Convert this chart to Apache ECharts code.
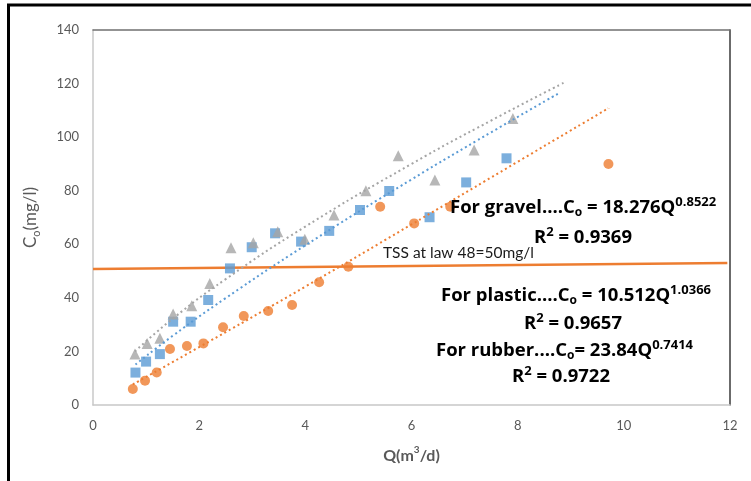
<!DOCTYPE html>
<html>
<head>
<meta charset="utf-8">
<script src="https://cdn.jsdelivr.net/npm/echarts@6/dist/echarts.min.js"></script>
<style>
  html, body { margin: 0; padding: 0; background: #fff; }
  #chart { width: 751px; height: 481px; }
</style>
</head>
<body>
<div id="chart"></div>
<script>
const qGravel = [0.80, 1.00, 1.26, 1.51, 1.84, 2.17, 2.58, 2.99, 3.43, 3.92, 4.45, 5.03, 5.58, 6.34, 7.03, 7.79];
const cGravel = [12.1, 16.2, 19.0, 31.1, 31.1, 39.2, 51.0, 58.9, 64.1, 61.0, 65.0, 72.8, 79.9, 70.1, 83.1, 92.1];

const qPlastic = [0.75, 0.98, 1.20, 1.45, 1.77, 2.08, 2.45, 2.84, 3.30, 3.75, 4.26, 4.81, 5.41, 6.05, 6.73, 9.71];
const cPlastic = [6.0, 9.1, 12.1, 20.9, 22.0, 23.0, 29.0, 33.2, 35.1, 37.3, 45.8, 51.6, 74.0, 67.8, 74.0, 90.0];

const qRubber = [0.79, 1.02, 1.26, 1.51, 1.86, 2.20, 2.60, 3.02, 3.48, 3.99, 4.54, 5.14, 5.75, 6.44, 7.18, 7.91];
const cRubber = [19.0, 23.0, 24.9, 34.0, 37.1, 45.4, 58.7, 60.6, 64.7, 61.9, 70.9, 80.0, 93.1, 84.0, 95.2, 107.0];

// dotted trend lines
const qTrendGravel = [0.80, 1.5, 2.5, 4, 6, 7.5, 8.76];
const cTrendGravel = [15.1, 25.8, 39.9, 59.6, 84.2, 101.8, 116.2];
const qTrendPlastic = [0.75, 2, 4, 6, 8, 9.71];
const cTrendPlastic = [7.7, 21.6, 44.2, 67.4, 90.8, 110.8];
const qTrendRubber = [0.79, 1.5, 2.5, 4, 6, 7.5, 8.9];
const cTrendRubber = [20.0, 32.2, 47.0, 66.6, 90.0, 106.2, 120.6];

// TSS limit line
const qLimit = [0, 11.95];
const cLimit = [50.8, 53.0];

const xTicks = [0, 2, 4, 6, 8, 10, 12];
const yTicks = [0, 20, 40, 60, 80, 100, 120, 140];

const ORANGE = '#ED7D31', BLUE = '#5B9BD5', GRAY = '#A5A5A5';
const TXT = '#2B323C';
const EQ_FONT = 'Open Sans';

const zip = (xs, ys) => xs.map((x, i) => [x, ys[i]]);

const chart = echarts.init(document.getElementById('chart'));

const trend = (xs, ys, color) => ({
  type: 'line',
  data: zip(xs, ys),
  smooth: true,
  showSymbol: false,
  symbol: 'none',
  silent: true,
  z: 4,
  lineStyle: { color: color, width: 2, type: [2, 3] }
});

const eqRich = {
  b: { fontFamily: EQ_FONT, fontWeight: 'bold', fontSize: 18.5, color: TXT, lineHeight: 26, verticalAlign: 'middle' },
  sub: { fontFamily: EQ_FONT, fontWeight: 'bold', fontSize: 12, color: TXT, lineHeight: 26, verticalAlign: 'bottom', padding: [0, 0, 2, 0] },
  sup: { fontFamily: EQ_FONT, fontWeight: 'bold', fontSize: 13, color: TXT, lineHeight: 26, verticalAlign: 'top', padding: [1, 0, 0, 0] }
};

const eqText = (x, y, text) => ({
  type: 'text',
  left: x,
  top: y,
  z: 100,
  style: { text: text, rich: eqRich }
});

chart.setOption({
  animation: false,
  backgroundColor: '#fff',
  grid: { left: 93, right: 21, top: 30, bottom: 76 },
  xAxis: [{
    type: 'value',
    min: xTicks[0],
    max: xTicks[xTicks.length - 1],
    interval: 2,
    name: '{b|Q(m}{sup|3}{b|/d)}',
    nameLocation: 'middle',
    nameGap: 40,
    nameTextStyle: {
      rich: {
        b: { fontFamily: 'Lato', fontWeight: 'bold', fontSize: 16, color: '#595959', lineHeight: 22 },
        sup: { fontFamily: 'Lato', fontWeight: 'bold', fontSize: 10, color: '#595959', lineHeight: 22, verticalAlign: 'top' }
      }
    },
    axisLine: { lineStyle: { color: '#C8C8C8', width: 1.5 } },
    axisTick: { show: false },
    splitLine: { show: false },
    axisLabel: { color: '#595959', fontFamily: 'Lato', fontSize: 13, margin: 14 }
  }, {
    type: 'value',
    position: 'top',
    min: 0, max: 12,
    axisLine: { show: true, onZero: false, lineStyle: { color: '#707070', width: 1.5 } },
    axisTick: { show: false },
    axisLabel: { show: false },
    splitLine: { show: false }
  }],
  yAxis: [{
    type: 'value',
    min: yTicks[0],
    max: yTicks[yTicks.length - 1],
    interval: 20,
    name: '{n|C}{sub|o}{n|(mg/l)}',
    nameLocation: 'middle',
    nameGap: 51,
    nameRotate: 90,
    nameTextStyle: {
      rich: {
        n: { fontFamily: 'Lato', fontSize: 17, color: '#595959', lineHeight: 22 },
        sub: { fontFamily: 'Lato', fontSize: 11, color: '#595959', lineHeight: 22, verticalAlign: 'bottom' }
      }
    },
    axisLine: { show: true, lineStyle: { color: '#C8C8C8', width: 1.5 } },
    axisTick: { show: false },
    splitLine: { show: false },
    axisLabel: { color: '#595959', fontFamily: 'Lato', fontSize: 13, margin: 14 }
  }, {
    type: 'value',
    position: 'right',
    min: 0, max: 140,
    axisLine: { show: true, onZero: false, lineStyle: { color: '#3A3A3A', width: 1.5 } },
    axisTick: { show: false },
    axisLabel: { show: false },
    splitLine: { show: false }
  }],
  series: [
    {
      type: 'line',
      data: zip(qLimit, cLimit),
      showSymbol: false,
      symbol: 'none',
      z: 1,
      lineStyle: { color: ORANGE, width: 2.5 }
    },
    {
      type: 'scatter', name: 'gravel', data: zip(qGravel, cGravel),
      symbol: 'rect', symbolSize: 10, z: 3,
      itemStyle: { color: BLUE }
    },
    {
      type: 'scatter', name: 'plastic', data: zip(qPlastic, cPlastic),
      symbol: 'circle', symbolSize: 10, z: 3,
      itemStyle: { color: ORANGE }
    },
    {
      type: 'scatter', name: 'rubber', data: zip(qRubber, cRubber),
      symbol: 'triangle', symbolSize: 11, z: 3,
      itemStyle: { color: GRAY }
    },
    trend(qTrendRubber, cTrendRubber, GRAY),
    trend(qTrendGravel, cTrendGravel, BLUE),
    trend(qTrendPlastic, cTrendPlastic, ORANGE)
  ],
  graphic: [
    {
      type: 'rect',
      shape: { x: 8.5, y: 5, width: 800, height: 600 },
      style: { fill: 'none', stroke: '#000', lineWidth: 3 },
      z: 100, silent: true
    },
    eqText(450, 195, '{b|For gravel....C}{sub|o}{b| = 18.276Q}{sup|0.8522}'),
    eqText(534, 225, '{b|R}{sup|2}{b| = 0.9369}'),
    {
      type: 'text', left: 383, top: 245, z: 100,
      style: { text: 'TSS at law 48=50mg/l', fontFamily: 'Lato', fontSize: 15.5, fill: '#1A1A1A' }
    },
    eqText(441, 283, '{b|For plastic....C}{sub|o}{b| = 10.512Q}{sup|1.0366}'),
    eqText(524, 311, '{b|R}{sup|2}{b| = 0.9657}'),
    eqText(436, 338, '{b|For rubber....C}{sub|o}{b|= 23.84Q}{sup|0.7414}'),
    eqText(512, 364, '{b|R}{sup|2}{b| = 0.9722}')
  ]
});
</script>
</body>
</html>
